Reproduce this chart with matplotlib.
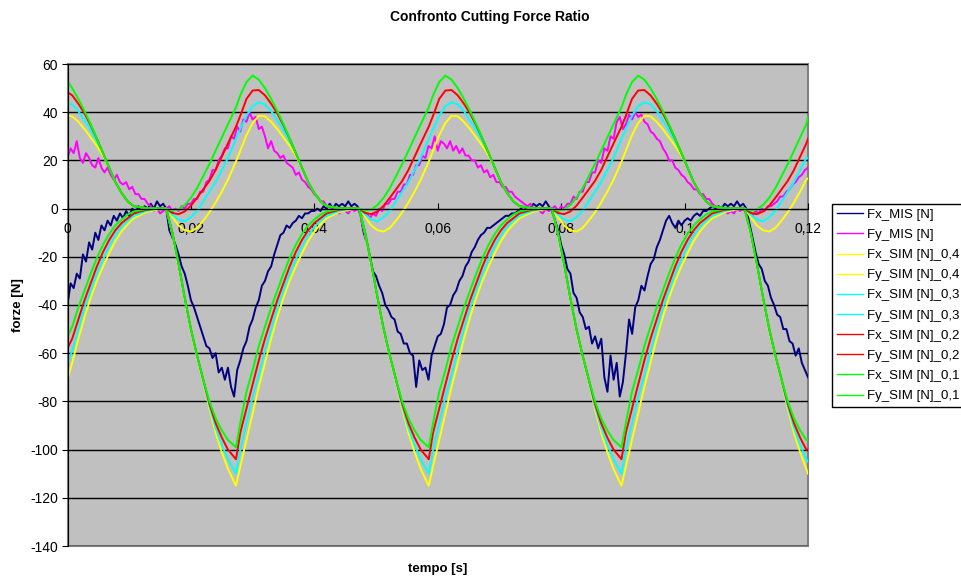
import matplotlib.pyplot as plt
import numpy as np
from matplotlib.patches import Rectangle

plt.rcParams['font.family'] = ['Liberation Sans', 'DejaVu Sans']
plt.rcParams['axes.unicode_minus'] = False

# Misure: passo 0,5 ms, una riga = 10 ms
fx_mis = [
    -40, -31, -33, -27, -29, -19, -22, -14, -17, -10, -13, -7, -9, -5, -7, -3, -5, -2, -4, -1,
    -3, 0, -2, 1, -1, 1, 0, 2, 0, 3, 1, 2, 0, -9, -12, -15, -19, -24, -27, -32,
    -38, -41, -45, -49, -53, -57, -58, -62, -60, -68, -66, -71, -66, -74, -78, -67, -63, -58, -55, -49,
    -46, -41, -38, -32, -30, -26, -24, -19, -15, -11, -10, -7, -8, -6, -5, -3, -4, -2, -2, -1,
    -1, 0, -1, 1, 0, 2, 0, 2, 1, 2, 1, 3, 1, 2, 1, -3, -10, -14, -20, -26,
    -28, -32, -35, -40, -42, -45, -46, -51, -52, -56, -56, -60, -61, -74, -63, -67, -66, -71, -61, -57,
    -53, -52, -48, -41, -40, -36, -34, -30, -28, -24, -22, -18, -16, -13, -11, -10, -8, -8, -7, -6,
    -5, -4, -3, -3, -2, -2, -1, 0, -1, 1, 0, 2, 1, 2, 1, 3, 1, -1, -5, -9,
    -15, -19, -25, -27, -35, -37, -43, -45, -50, -49, -56, -53, -58, -54, -70, -76, -61, -71, -64, -78,
    -72, -60, -46, -52, -41, -38, -32, -34, -28, -23, -21, -16, -13, -9, -5, -3, -6, -8, -5, -7,
    -5, -4, -5, -3, -2, -3, -1, -1, 0, 1, 0, 1, 0, 2, 1, 2, 1, 3, 1, 2,
    0, -6, -12, -18, -23, -25, -30, -32, -37, -40, -44, -45, -50, -50, -55, -56, -61, -58, -64, -67,
    -70,
]
fy_mis = [
    21, 25, 23, 28, 21, 19, 23, 21, 18, 17, 21, 17, 15, 17, 14, 12, 14, 11, 10, 11,
    8, 9, 6, 6, 4, 4, 2, 1, -1, 0, -2, -1, 0, 1, -1, 0, -1, 1, 0, 2,
    2, 4, 4, 7, 7, 11, 12, 16, 16, 20, 22, 25, 25, 30, 29, 34, 32, 37, 36, 40,
    37, 38, 33, 34, 30, 25, 28, 24, 23, 21, 22, 19, 18, 17, 14, 15, 12, 11, 9, 8,
    6, 5, 3, 3, 1, 1, -1, 0, -2, -1, -1, -2, 0, -1, 0, -1, -3, -2, -4, -2,
    -3, 0, -1, 2, 2, 4, 4, 7, 7, 10, 10, 14, 14, 18, 18, 22, 21, 26, 25, 30,
    24, 28, 27, 25, 28, 24, 26, 23, 25, 22, 22, 20, 20, 17, 18, 15, 16, 13, 14, 11,
    11, 9, 9, 7, 7, 5, 4, 3, 2, 1, 2, 0, 0, -1, -2, 0, -1, 0, 1, -1,
    1, 0, 2, 2, 5, 4, 7, 7, 11, 11, 15, 15, 20, 19, 25, 24, 30, 29, 36, 38,
    33, 35, 39, 37, 40, 38, 39, 36, 35, 32, 31, 29, 28, 25, 23, 20, 20, 17, 16, 14,
    13, 11, 10, 8, 8, 6, 6, 4, 4, 2, 1, 0, -1, -1, -2, -1, -2, 0, -1, 0,
    -2, -1, -3, -1, -2, 0, -1, 1, 1, 2, 3, 5, 5, 7, 8, 10, 11, 13, 14, 16,
    17,
]

# Simulazioni: tempi in ms, una riga per passata del dente
t_sim_ms = [
    0, 0.76, 1.76, 2.76, 3.76, 4.76, 5.76, 6.76, 7.76, 8.76, 9.76, 10.76, 12.76, 14.76,
    16, 17, 18, 19, 20, 21, 22, 23, 24, 25, 26, 27.3, 28, 29, 30, 31, 32, 33, 34, 35, 36, 37, 38, 39, 40, 41, 42, 44, 46,
    47.24, 48.24, 49.24, 50.24, 51.24, 52.24, 53.24, 54.24, 55.24, 56.24, 57.24, 58.54, 59.24, 60.24, 61.24, 62.24,
    63.24, 64.24, 65.24, 66.24, 67.24, 68.24, 69.24, 70.24, 71.24, 72.24, 73.24, 75.24, 77.24,
    78.48, 79.48, 80.48, 81.48, 82.48, 83.48, 84.48, 85.48, 86.48, 87.48, 88.48, 89.78, 90.48, 91.48, 92.48, 93.48,
    94.48, 95.48, 96.48, 97.48, 98.48, 99.48, 100.48, 101.48, 102.48, 103.48, 104.48, 106.48, 108.48,
    109.72, 110.72, 111.72, 112.72, 113.72, 114.72, 115.72, 116.72, 117.72, 118.72, 119.72, 120,
]

fx_sim_04 = [
    -71, -64, -54, -45, -37, -30, -24, -18.5, -13.5, -9.5, -6.5, -4, -1.5, -0.3,
    0, -11, -24, -38, -51, -62, -72, -83, -93, -101, -108, -115, -107, -96, -85, -74, -64, -54, -45, -37, -30, -24, -18.5, -13.5, -9.5, -6.5, -4, -1.5, -0.3,
    0, -11, -24, -38, -51, -62, -72, -83, -93, -101, -108, -115, -107, -96, -85, -74, -64, -54, -45, -37, -30, -24, -18.5, -13.5, -9.5, -6.5, -4, -1.5, -0.3,
    0, -11, -24, -38, -51, -62, -72, -83, -93, -101, -108, -115, -107, -96, -85, -74, -64, -54, -45, -37, -30, -24, -18.5, -13.5, -9.5, -6.5, -4, -1.5, -0.3,
    0, -11, -24, -38, -51, -62, -72, -83, -93, -101, -108, -110,
]
fy_sim_04 = [
    38.5, 38.3, 36, 33, 29.5, 26, 22, 17, 11, 6.5, 3, 1, 0.2, 0,
    0, -3.5, -7, -9, -9.5, -8, -5, -1.5, 2.5, 7, 12, 19.5, 24, 30.5, 35.5, 38.5, 38.3, 36, 33, 29.5, 26, 22, 17, 11, 6.5, 3, 1, 0.2, 0,
    0, -3.5, -7, -9, -9.5, -8, -5, -1.5, 2.5, 7, 12, 19.5, 24, 30.5, 35.5, 38.5, 38.3, 36, 33, 29.5, 26, 22, 17, 11, 6.5, 3, 1, 0.2, 0,
    0, -3.5, -7, -9, -9.5, -8, -5, -1.5, 2.5, 7, 12, 19.5, 24, 30.5, 35.5, 38.5, 38.3, 36, 33, 29.5, 26, 22, 17, 11, 6.5, 3, 1, 0.2, 0,
    0, -3.5, -7, -9, -9.5, -8, -5, -1.5, 2.5, 7, 12, 12.5,
]
fx_sim_03 = [
    -65, -59, -50, -41, -34, -27, -21, -15.5, -11, -7.5, -5, -3, -1, 0,
    0, -10.5, -23.5, -37.5, -50.5, -61.5, -71.5, -82, -91, -98, -104, -110, -100, -89, -78, -69, -59, -50, -41, -34, -27, -21, -15.5, -11, -7.5, -5, -3, -1, 0,
    0, -10.5, -23.5, -37.5, -50.5, -61.5, -71.5, -82, -91, -98, -104, -110, -100, -89, -78, -69, -59, -50, -41, -34, -27, -21, -15.5, -11, -7.5, -5, -3, -1, 0,
    0, -10.5, -23.5, -37.5, -50.5, -61.5, -71.5, -82, -91, -98, -104, -110, -100, -89, -78, -69, -59, -50, -41, -34, -27, -21, -15.5, -11, -7.5, -5, -3, -1, 0,
    0, -10.5, -23.5, -37.5, -50.5, -61.5, -71.5, -82, -91, -98, -104, -105,
]
fy_sim_03 = [
    43.7, 43.2, 40.5, 36.5, 32.5, 28, 23, 17, 11, 6.5, 3, 1, 0.2, 0,
    0, -2.5, -4.5, -5.3, -3.5, -1, 3, 7, 11, 16, 21, 29, 33, 38.5, 42.5, 44.1, 43.2, 40.5, 36.5, 32.5, 28, 23, 17, 11, 6.5, 3, 1, 0.2, 0,
    0, -2.5, -4.5, -5.3, -3.5, -1, 3, 7, 11, 16, 21, 29, 33, 38.5, 42.5, 44.1, 43.2, 40.5, 36.5, 32.5, 28, 23, 17, 11, 6.5, 3, 1, 0.2, 0,
    0, -2.5, -4.5, -5.3, -3.5, -1, 3, 7, 11, 16, 21, 29, 33, 38.5, 42.5, 44.1, 43.2, 40.5, 36.5, 32.5, 28, 23, 17, 11, 6.5, 3, 1, 0.2, 0,
    0, -2.5, -4.5, -5.3, -3.5, -1, 3, 7, 11, 16, 21, 21,
]
fx_sim_02 = [
    -58, -54, -46, -38, -31, -24, -18, -13, -9, -6, -4, -2, -0.5, 0,
    0, -10, -23, -37, -50, -61, -71, -81, -89, -95, -100, -104, -93, -83, -73, -63, -54, -46, -38, -31, -24, -18, -13, -9, -6, -4, -2, -0.5, 0,
    0, -10, -23, -37, -50, -61, -71, -81, -89, -95, -100, -104, -93, -83, -73, -63, -54, -46, -38, -31, -24, -18, -13, -9, -6, -4, -2, -0.5, 0,
    0, -10, -23, -37, -50, -61, -71, -81, -89, -95, -100, -104, -93, -83, -73, -63, -54, -46, -38, -31, -24, -18, -13, -9, -6, -4, -2, -0.5, 0,
    0, -10, -23, -37, -50, -61, -71, -81, -89, -95, -100, -100,
]
fy_sim_02 = [
    48.3, 47, 43.5, 39.5, 34.5, 29, 23, 17, 11, 6.5, 3, 1, 0.2, 0,
    0, -1.8, -2.3, -1.2, 1.2, 4.5, 8, 11.5, 16, 21.5, 27, 34, 38.5, 45.5, 49, 49.2, 47, 43.5, 39.5, 34.5, 29, 23, 17, 11, 6.5, 3, 1, 0.2, 0,
    0, -1.8, -2.3, -1.2, 1.2, 4.5, 8, 11.5, 16, 21.5, 27, 34, 38.5, 45.5, 49, 49.2, 47, 43.5, 39.5, 34.5, 29, 23, 17, 11, 6.5, 3, 1, 0.2, 0,
    0, -1.8, -2.3, -1.2, 1.2, 4.5, 8, 11.5, 16, 21.5, 27, 34, 38.5, 45.5, 49, 49.2, 47, 43.5, 39.5, 34.5, 29, 23, 17, 11, 6.5, 3, 1, 0.2, 0,
    0, -1.8, -2.3, -1.2, 1.2, 4.5, 8, 11.5, 16, 21.5, 27, 29,
]
fx_sim_01 = [
    -53, -49, -41, -34, -27, -20.5, -15, -10.5, -7, -4.5, -2.5, -1.2, -0.2, 0,
    0, -10, -23, -37, -50, -61, -71, -80, -87, -92, -96, -99, -89, -76, -67, -57, -49, -41, -34, -27, -20.5, -15, -10.5, -7, -4.5, -2.5, -1.2, -0.2, 0,
    0, -10, -23, -37, -50, -61, -71, -80, -87, -92, -96, -99, -89, -76, -67, -57, -49, -41, -34, -27, -20.5, -15, -10.5, -7, -4.5, -2.5, -1.2, -0.2, 0,
    0, -10, -23, -37, -50, -61, -71, -80, -87, -92, -96, -99, -89, -76, -67, -57, -49, -41, -34, -27, -20.5, -15, -10.5, -7, -4.5, -2.5, -1.2, -0.2, 0,
    0, -10, -23, -37, -50, -61, -71, -80, -87, -92, -96, -96,
]
fy_sim_01 = [
    53, 50, 45.5, 40.5, 35, 29, 23, 17, 11, 6.5, 3, 1, 0.2, 0,
    0, -0.8, -0.3, 1.5, 4.5, 8.5, 13.5, 18.5, 24, 29.5, 35, 42, 47, 52.5, 55.2, 53.5, 50, 45.5, 40.5, 35, 29, 23, 17, 11, 6.5, 3, 1, 0.2, 0,
    0, -0.8, -0.3, 1.5, 4.5, 8.5, 13.5, 18.5, 24, 29.5, 35, 42, 47, 52.5, 55.2, 53.5, 50, 45.5, 40.5, 35, 29, 23, 17, 11, 6.5, 3, 1, 0.2, 0,
    0, -0.8, -0.3, 1.5, 4.5, 8.5, 13.5, 18.5, 24, 29.5, 35, 42, 47, 52.5, 55.2, 53.5, 50, 45.5, 40.5, 35, 29, 23, 17, 11, 6.5, 3, 1, 0.2, 0,
    0, -0.8, -0.3, 1.5, 4.5, 8.5, 13.5, 18.5, 24, 29.5, 35, 38,
]

x_ticks = [0, 0.02, 0.04, 0.06, 0.08, 0.1, 0.12]
x_tick_labels = ['0', '0,02', '0,04', '0,06', '0,08', '0,1', '0,12']
y_ticks = list(range(-140, 61, 20))

t_mis = np.arange(len(fx_mis)) * 0.0005
t_sim = np.array(t_sim_ms) / 1000.0

serie = [
    (t_mis, fx_mis, '#000080', 'Fx_MIS [N]'),
    (t_mis, fy_mis, '#FF00FF', 'Fy_MIS [N]'),
    (t_sim, fx_sim_04, '#FFFF00', 'Fx_SIM [N]_0,4'),
    (t_sim, fy_sim_04, '#FFFF00', 'Fy_SIM [N]_0,4'),
    (t_sim, fx_sim_03, '#00FFFF', 'Fx_SIM [N]_0,3'),
    (t_sim, fy_sim_03, '#00FFFF', 'Fy_SIM [N]_0,3'),
    (t_sim, fx_sim_02, '#FF0000', 'Fx_SIM [N]_0,2'),
    (t_sim, fy_sim_02, '#FF0000', 'Fy_SIM [N]_0,2'),
    (t_sim, fx_sim_01, '#00FF00', 'Fx_SIM [N]_0,1'),
    (t_sim, fy_sim_01, '#00FF00', 'Fy_SIM [N]_0,1'),
]

fig = plt.figure(figsize=(9.62, 5.80), dpi=100)
ax = fig.add_axes([67.5 / 962, 34 / 580, 740.5 / 962, 482 / 580])
ax.set_facecolor('#C0C0C0')

for t, y, col, lab in serie:
    ax.plot(t, y, color=col, lw=1.4, label=lab)

ax.set_xlim(0, 0.12)
ax.set_ylim(-140, 60)

# asse x sulla linea dello zero
ax.spines['bottom'].set_position(('data', 0))
ax.spines['bottom'].set_color('black')
ax.spines['left'].set_color('black')
ax.spines['top'].set_visible(False)
ax.spines['right'].set_visible(False)
ax.add_patch(Rectangle((0, 0), 1, 1, transform=ax.transAxes, fill=False,
                       ec='#808080', lw=1.5, clip_on=False, zorder=0.5))

ax.set_xticks(x_ticks)
ax.set_xticklabels(x_tick_labels)
ax.set_yticks(y_ticks)
ax.tick_params(axis='x', direction='in', length=4, pad=10, labelsize=10)
ax.tick_params(axis='y', direction='out', length=4, pad=3, labelsize=10)
ax.yaxis.grid(True, color='black', lw=1)

fig.text(490 / 962, 1 - 17 / 580, 'Confronto Cutting Force Ratio', ha='center', va='center',
         fontsize=10, fontweight='bold')
fig.text(18 / 962, 1 - 305 / 580, 'forze [N]', ha='center', va='center', rotation=90,
         fontsize=9.5, fontweight='bold')
fig.text(438 / 962, 1 - 569 / 580, 'tempo [s]', ha='center', va='center',
         fontsize=9.5, fontweight='bold')

leg = ax.legend(loc='upper left', bbox_to_anchor=(832.3 / 962, 1 - 204 / 580),
                bbox_transform=fig.transFigure, borderaxespad=0, fontsize=9.5,
                fancybox=False, edgecolor='black', framealpha=1, handlelength=2.0,
                handletextpad=0.25, labelspacing=0.6, borderpad=0.35)
leg.get_frame().set_linewidth(1.0)
for line in leg.get_lines():
    line.set_linewidth(1.0)

fig.savefig('out.png', dpi=100)
